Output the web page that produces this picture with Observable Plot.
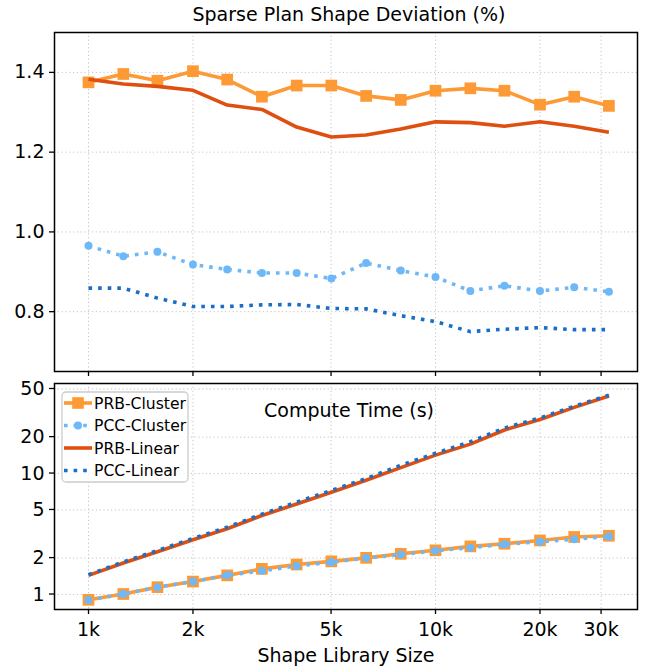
<!DOCTYPE html>
<html><head><meta charset="utf-8">
<script src="https://cdn.jsdelivr.net/npm/d3@7"></script>
<script src="https://cdn.jsdelivr.net/npm/@observablehq/plot@0.6"></script>
<style>body{margin:0;background:#fff} svg{display:block}</style>
</head><body><div id="chart"></div>
<script>
// ---- data ----
const sizes = [1000, 1260, 1580, 2000, 2510, 3160, 3980, 5010, 6310, 7940, 10000, 12600, 15800, 20000, 25100, 31600];
const seriesNames = ["PRB-Cluster", "PCC-Cluster", "PRB-Linear", "PCC-Linear"];
const prbClusterDev = [1.375, 1.396, 1.379, 1.403, 1.382, 1.339, 1.367, 1.367, 1.341, 1.331, 1.354, 1.360, 1.354, 1.319, 1.339, 1.316];
const pccClusterDev = [0.965, 0.939, 0.950, 0.918, 0.906, 0.897, 0.897, 0.883, 0.922, 0.903, 0.887, 0.852, 0.865, 0.852, 0.861, 0.850];
const prbLinearDev  = [1.383, 1.371, 1.365, 1.355, 1.318, 1.307, 1.263, 1.238, 1.243, 1.258, 1.276, 1.274, 1.265, 1.276, 1.265, 1.250];
const pccLinearDev  = [0.859, 0.859, 0.834, 0.813, 0.813, 0.817, 0.818, 0.808, 0.807, 0.790, 0.775, 0.750, 0.756, 0.760, 0.755, 0.755];
const prbClusterTime = [0.904, 1.01, 1.15, 1.28, 1.44, 1.63, 1.77, 1.88, 2.01, 2.17, 2.32, 2.50, 2.63, 2.80, 2.99, 3.06];
const pccClusterTime = [0.90, 1.01, 1.15, 1.28, 1.44, 1.57, 1.72, 1.85, 2.00, 2.14, 2.30, 2.44, 2.60, 2.73, 2.86, 3.02];
const prbLinearTime  = [1.44, 1.82, 2.26, 2.84, 3.50, 4.50, 5.60, 7.0, 8.8, 11.2, 14.2, 17.5, 22.9, 28.0, 35.2, 43.7];
const pccLinearTime  = [1.46, 1.86, 2.31, 2.91, 3.60, 4.62, 5.80, 7.25, 9.1, 11.7, 14.7, 18.3, 23.8, 28.8, 36.0, 44.5];
const xTicks = [1000, 2000, 5000, 10000, 20000, 30000];
const xTickLabels = ["1k", "2k", "5k", "10k", "20k", "30k"];
const devTicks = [0.8, 1.0, 1.2, 1.4];
const timeTicks = [1, 2, 5, 10, 20, 50];
const timeTickLabels = ["1", "2", "5", "10", "20", "50"];
const titleTop = "Sparse Plan Shape Deviation (%)";
const titleBottom = "Compute Time (s)";
const xLabel = "Shape Library Size";

// ---- styles ----
const colors = {"PRB-Cluster": "#fd9a35", "PCC-Cluster": "#6fb8f8", "PRB-Linear": "#df4f10", "PCC-Linear": "#1b6ec6"};
const dashes = {"PRB-Cluster": null, "PCC-Cluster": "3.6,6", "PRB-Linear": null, "PCC-Linear": "3.6,6"};
const devArr = {"PRB-Cluster": prbClusterDev, "PCC-Cluster": pccClusterDev, "PRB-Linear": prbLinearDev, "PCC-Linear": pccLinearDev};
const timeArr = {"PRB-Cluster": prbClusterTime, "PCC-Cluster": pccClusterTime, "PRB-Linear": prbLinearTime, "PCC-Linear": pccLinearTime};
const rows = seriesNames.flatMap(s => sizes.map((x, i) => ({series: s, size: x, dev: devArr[s][i], time: timeArr[s][i]})));

const xDomain = [798, 38200];
const gridStyle = {stroke: "#c4c4c4", strokeOpacity: 1, strokeWidth: 1, strokeDasharray: "1.2,2.6"};
const baseStyle = {fontFamily: "DejaVu Sans", fontSize: "19px", color: "black", background: "white", overflow: "visible"};

function seriesMarks(yField) {
  const marks = [];
  for (const s of seriesNames) {
    const d = rows.filter(r => r.series === s);
    marks.push(Plot.line(d, {x: "size", y: yField, stroke: colors[s], strokeWidth: 3.6,
      strokeDasharray: dashes[s] || undefined, strokeLinecap: "butt", strokeLinejoin: "round"}));
    if (s === "PRB-Cluster") marks.push(Plot.dot(d, {x: "size", y: yField, symbol: "square", r: 6.6, fill: colors[s], stroke: "none"}));
    if (s === "PCC-Cluster") marks.push(Plot.dot(d, {x: "size", y: yField, r: 4, fill: colors[s], stroke: "none"}));
  }
  return marks;
}

const topPlot = Plot.plot({
  width: 646, height: 380,
  marginLeft: 54, marginRight: 9, marginTop: 32, marginBottom: 9,
  style: baseStyle,
  x: {type: "log", domain: xDomain},
  y: {domain: [0.65, 1.5]},
  marks: [
    Plot.gridX(xTicks, gridStyle),
    Plot.gridY(devTicks, gridStyle),
    ...seriesMarks("dev"),
    Plot.frame({stroke: "black", strokeWidth: 1.5}),
    Plot.axisX(xTicks, {tickFormat: () => "", tickSize: 5, label: null, strokeWidth: 1.3}),
    Plot.axisY(devTicks, {tickFormat: d3.format(".1f"), tickSize: 5, tickPadding: 5, label: null, strokeWidth: 1.3}),
    Plot.text([titleTop], {text: d => d, frameAnchor: "top", dy: -18, dx: 3, lineAnchor: "middle", fontSize: 19})
  ]
});

const bottomPlot = Plot.plot({
  width: 646, height: 286,
  marginLeft: 54, marginRight: 9, marginTop: 3, marginBottom: 57,
  style: baseStyle,
  x: {type: "log", domain: xDomain},
  y: {type: "log", domain: [0.752, 55.5], axis: null},
  marks: [
    Plot.gridX(xTicks, gridStyle),
    Plot.gridY(timeTicks, gridStyle),
    ...seriesMarks("time"),
    Plot.frame({stroke: "black", strokeWidth: 1.5}),
    Plot.axisX(xTicks, {tickFormat: d => xTickLabels[xTicks.indexOf(d)], tickSize: 5, tickPadding: 8, label: null, strokeWidth: 1.3}),
    Plot.text(timeTicks, {y: d => d, text: (d, i) => timeTickLabels[i], frameAnchor: "left", dx: -10, textAnchor: "end", lineAnchor: "middle", fontSize: 19}),
    Plot.text([titleBottom], {text: d => d, frameAnchor: "top", dy: 27, dx: 3, lineAnchor: "middle", fontSize: 19}),
    Plot.text([xLabel], {text: d => d, frameAnchor: "bottom", dy: 46, dx: 0, lineAnchor: "middle", fontSize: 19})
  ]
});

// y tick marks for the log panel (short outward ticks at the left frame edge)
{
  const y = bottomPlot.scale("y");
  const sel = d3.select(bottomPlot).append("g").attr("stroke", "black").attr("stroke-width", 1.3);
  timeTicks.forEach(t => sel.append("line").attr("x1", 49).attr("x2", 54).attr("y1", y.apply(t)).attr("y2", y.apply(t)));
}

// ---- legend ----
const g = d3.select(bottomPlot).append("g").attr("font-family", "DejaVu Sans").attr("font-size", 15.6).attr("text-anchor", "start");
g.append("rect").attr("x", 62).attr("y", 12).attr("width", 126).attr("height", 90).attr("rx", 4)
  .attr("fill", "white").attr("fill-opacity", 0.8).attr("stroke", "#cccccc").attr("stroke-width", 1.3);
const rowY = [23, 45.5, 68, 90.5];
seriesNames.forEach((s, i) => {
  const y = rowY[i];
  g.append("line").attr("x1", 64).attr("x2", 92).attr("y1", y).attr("y2", y)
    .attr("stroke", colors[s]).attr("stroke-width", 3.6)
    .attr("stroke-dasharray", dashes[s]).attr("stroke-linecap", "butt");
  if (s === "PRB-Cluster") g.append("rect").attr("x", 78 - 5.8).attr("y", y - 5.8).attr("width", 11.6).attr("height", 11.6).attr("fill", colors[s]);
  if (s === "PCC-Cluster") g.append("circle").attr("cx", 78).attr("cy", y).attr("r", 4).attr("fill", colors[s]);
  g.append("text").attr("x", 94).attr("y", y).attr("dy", "0.36em").attr("fill", "black").attr("text-anchor", "start").text(s);
});

document.getElementById("chart").append(topPlot, bottomPlot);
</script></body></html>
